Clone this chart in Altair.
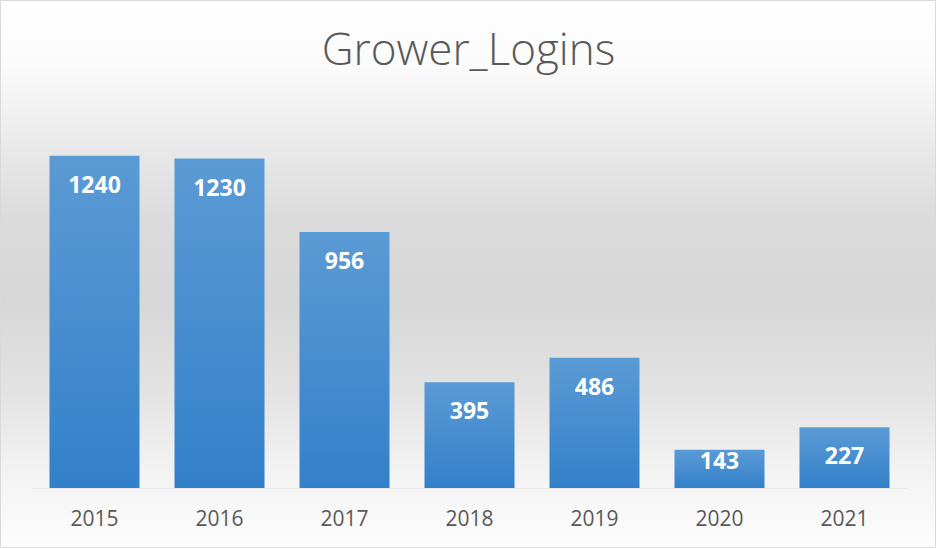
import altair as alt
import pandas as pd

years = ["2015", "2016", "2017", "2018", "2019", "2020", "2021"]
logins = [1240, 1230, 956, 395, 486, 143, 227]
title_text = "Grower_Logins"

df = pd.DataFrame({"year": years, "logins": logins})
one = pd.DataFrame({"t": [title_text]})

W, H = 875, 375
PL, PT, PR, PB = 32, 113, 29, 60

bg = alt.Chart(one).mark_rect(
    fill=alt.Gradient(
        gradient="linear", x1=0, y1=0, x2=0, y2=1,
        stops=[
            alt.GradientStop(offset=0.0, color="#ffffff"),
            alt.GradientStop(offset=0.12, color="#fbfbfb"),
            alt.GradientStop(offset=0.28, color="#e8e8e8"),
            alt.GradientStop(offset=0.4, color="#dbdbdb"),
            alt.GradientStop(offset=0.55, color="#d7d7d7"),
            alt.GradientStop(offset=0.72, color="#e3e3e3"),
            alt.GradientStop(offset=0.85, color="#f2f2f2"),
            alt.GradientStop(offset=1.0, color="#fdfdfd"),
        ],
    ),
    stroke="#d9d9d9",
    strokeWidth=1,
).encode(
    x=alt.value(-PL + 0.5),
    x2=alt.value(W + PR - 0.5),
    y=alt.value(-PT + 0.5),
    y2=alt.value(H + PB - 0.5),
)

x_enc = alt.X(
    "year:N",
    sort=years,
    scale=alt.Scale(paddingInner=0.28, paddingOuter=0.14),
    axis=alt.Axis(
        title=None, labelAngle=0, ticks=False, labelPadding=20,
        labelFont="Open Sans", labelFontSize=21, labelColor="#595959",
        domainColor="#e8e8e8", domainWidth=1, grid=False, zindex=2,
    ),
)
y_enc = alt.Y(
    "logins:Q",
    scale=alt.Scale(domain=[0, 1400], nice=False),
    axis=None,
)

bars = alt.Chart(df).mark_bar(
    fill=alt.Gradient(
        gradient="linear", x1=0, y1=0, x2=0, y2=1,
        stops=[
            alt.GradientStop(offset=0.0, color="#5b9bd5"),
            alt.GradientStop(offset=1.0, color="#3380ca"),
        ],
    ),
).encode(x=x_enc, y=y_enc)

lab_style = dict(font="Open Sans", fontSize=23, fontWeight="bold",
                 color="#ffffff", baseline="middle", align="center")

labels_big = alt.Chart(df).transform_filter("datum.logins >= 200").mark_text(
    dy=30, **lab_style
).encode(x=alt.X("year:N", sort=years), y="logins:Q", text="logins:Q")

labels_small = alt.Chart(df).transform_filter("datum.logins < 200").mark_text(
    dy=12, **lab_style
).encode(x=alt.X("year:N", sort=years), y="logins:Q", text="logins:Q")

title = alt.Chart(one).mark_text(
    font="Open Sans", fontSize=44, fontWeight=300, color="#595959",
    baseline="middle", align="center",
).encode(x=alt.value(W / 2 - 1), y=alt.value(52 - PT), text="t:N")

chart = alt.layer(bg, bars, labels_big, labels_small, title).properties(
    width=W, height=H,
    autosize=alt.AutoSizeParams(type="none"),
    padding={"left": PL, "top": PT, "right": PR, "bottom": PB},
    background="#ffffff",
).configure_view(stroke=None)

chart.save("out.html", embed_options={"renderer": "svg", "actions": False})
